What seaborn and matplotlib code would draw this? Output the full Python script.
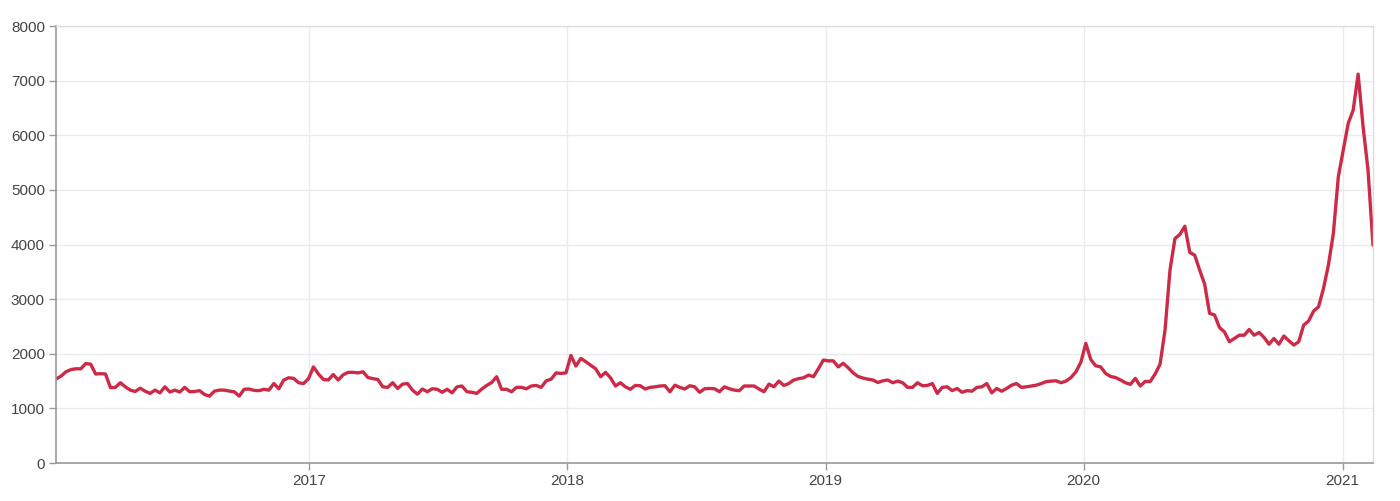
import numpy as np
import pandas as pd
import matplotlib
matplotlib.use("Agg")
import matplotlib.pyplot as plt
import matplotlib.dates as mdates
import seaborn as sns

start_date = "2016-01-09"
values = [
    1537, 1590, 1670, 1710, 1725, 1725, 1820, 1810, 1630, 1635,
    1630, 1380, 1385, 1470, 1395, 1335, 1310, 1370, 1315, 1275,
    1335, 1285, 1395, 1300, 1335, 1300, 1385, 1305, 1310, 1325,
    1255, 1225, 1315,
    1335, 1335, 1317, 1305, 1225, 1350, 1355, 1330, 1325, 1350,
    1335, 1455, 1360, 1520, 1560, 1550, 1470, 1455, 1545, 1760,
    1630, 1530, 1520, 1620, 1520, 1615, 1660, 1660, 1650, 1670,
    1565, 1545, 1530, 1395,
    1385, 1470, 1365, 1445, 1455, 1335, 1260, 1355, 1305, 1360,
    1350, 1295, 1350, 1285, 1395, 1410, 1305, 1295, 1275, 1355,
    1420, 1475, 1580, 1350, 1350, 1305, 1385, 1385, 1360, 1410,
    1420, 1385, 1505,
    1535, 1650, 1640, 1650, 1970, 1775, 1915, 1855, 1790, 1725,
    1580, 1660, 1560, 1410, 1470, 1395, 1350, 1420, 1415, 1355,
    1385, 1395, 1410, 1415, 1305, 1425, 1385, 1355, 1415, 1395,
    1295, 1360, 1365, 1360,
    1305, 1395, 1360, 1335, 1325, 1410, 1410, 1410, 1355, 1305,
    1445, 1395, 1500, 1420, 1455, 1520, 1545, 1560, 1610, 1580,
    1730, 1885, 1870, 1870, 1760, 1825, 1745, 1650, 1585, 1555,
    1535, 1520, 1475,
    1505, 1520, 1470, 1500, 1470, 1385, 1385, 1470, 1415, 1420,
    1455, 1275, 1385, 1395, 1325, 1365, 1295, 1325, 1315, 1385,
    1395, 1455, 1285, 1365, 1315, 1365, 1425, 1455, 1385, 1395,
    1410, 1425, 1455,
    1490, 1500, 1505, 1470, 1500, 1565, 1670, 1845, 2190, 1895,
    1780, 1760, 1640, 1585, 1565, 1520, 1470, 1440, 1550, 1410,
    1495, 1490, 1630, 1810, 2435, 3530, 4110, 4185, 4335, 3855,
    3805, 3530, 3275, 2740,
    2710, 2480, 2400, 2220, 2280, 2340, 2340, 2445, 2340, 2390,
    2300, 2175, 2280, 2175, 2325, 2240, 2160, 2220, 2525, 2600,
    2780, 2860, 3195, 3625, 4205, 5240, 5730, 6220, 6460, 7120,
    6160, 5365, 3990,
]
dates = pd.date_range(start_date, periods=len(values), freq="7D")
df = pd.DataFrame({"date": dates, "value": values})

y_ticks = [0, 1000, 2000, 3000, 4000, 5000, 6000, 7000, 8000]
x_years = ["2017", "2018", "2019", "2020", "2021"]

sns.set_theme(style="white")
plt.rcParams["font.family"] = ["Liberation Sans", "DejaVu Sans"]

fig = plt.figure(figsize=(14, 5.01), dpi=100)
ax = fig.add_axes([0.04, 0.0758, 0.9407, 0.8722])

sns.lineplot(data=df, x="date", y="value", ax=ax, color="#cc2a46", linewidth=2.4)

ax.set_xlim(dates[0], dates[-1])
ax.set_ylim(0, 8000)
ax.set_yticks(y_ticks)
ax.set_yticklabels([str(t) for t in y_ticks])
ax.set_xticks([pd.Timestamp(y + "-01-01") for y in x_years])
ax.set_xticklabels(x_years)
ax.set_xlabel("")
ax.set_ylabel("")

ax.grid(True, color="#ebebeb", linewidth=1)
ax.set_axisbelow(True)
for side in ["top", "right"]:
    ax.spines[side].set_color("#dddddd")
    ax.spines[side].set_linewidth(1)
for side in ["left", "bottom"]:
    ax.spines[side].set_color("#999999")
    ax.spines[side].set_linewidth(1.2)

ax.tick_params(axis="both", which="both", length=5, width=1, color="#999999",
               labelcolor="#444444", labelsize=11, pad=3, direction="out",
               bottom=True, left=True)

fig.savefig("out.png", dpi=100, facecolor="white")
